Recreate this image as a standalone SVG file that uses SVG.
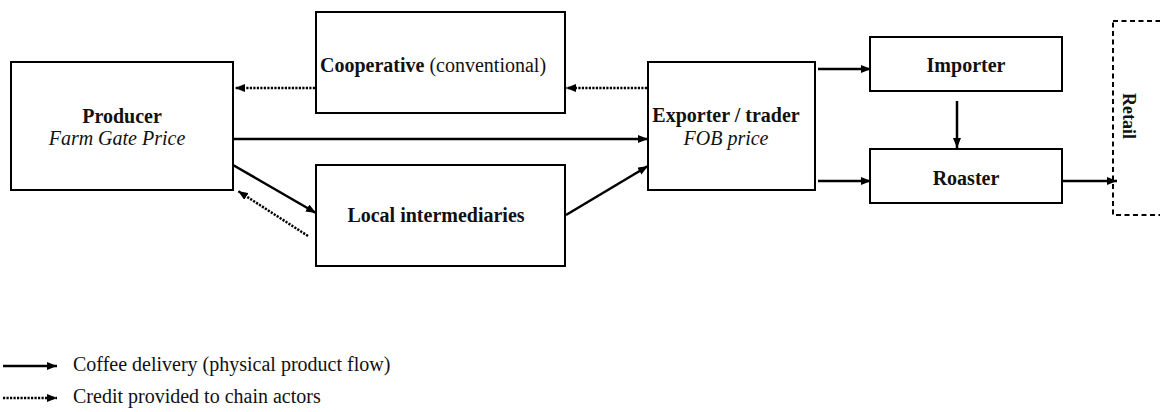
<svg xmlns="http://www.w3.org/2000/svg" width="1160" height="412" viewBox="0 0 1160 412">
<style>
.box{fill:#fff;stroke:#000;stroke-width:2}
.t{font-family:"Liberation Serif","Times New Roman",serif;font-size:20px;fill:#111}
.b{font-weight:bold}
.i{font-style:italic}
.solid{fill:none;stroke:#000;stroke-width:2.5}
.dot{fill:none;stroke:#000;stroke-width:2.5;stroke-dasharray:2.2 1.3}
</style>
<defs>
<marker id="ah" viewBox="0 0 10 8" refX="10" refY="4" markerWidth="10" markerHeight="8" markerUnits="userSpaceOnUse" orient="auto">
<path d="M0,0 L10,4 L0,8 z" fill="#000"/>
</marker>
</defs>
<rect width="1160" height="412" fill="#fff"/>
<g id="producer">
<rect class="box" x="11" y="62" width="222" height="128"/>
<text class="t b" x="122" y="123" text-anchor="middle">Producer</text>
<text class="t i" x="117" y="145" text-anchor="middle">Farm Gate Price</text>
</g>
<g id="cooperative">
<rect class="box" x="316" y="12" width="249" height="101"/>
<text class="t" x="320" y="72"><tspan class="b">Cooperative</tspan> (conventional)</text>
</g>
<g id="local">
<rect class="box" x="316" y="165" width="249" height="101"/>
<text class="t b" x="436" y="222" text-anchor="middle">Local intermediaries</text>
</g>
<g id="exporter">
<rect class="box" x="648" y="62" width="167" height="128"/>
<text class="t b" x="726" y="122" text-anchor="middle">Exporter / trader</text>
<text class="t i" x="726" y="145" text-anchor="middle">FOB price</text>
</g>
<g id="importer">
<rect class="box" x="870" y="37" width="192" height="54"/>
<text class="t b" x="966" y="72" text-anchor="middle">Importer</text>
</g>
<g id="roaster">
<rect class="box" x="870" y="149" width="192" height="54"/>
<text class="t b" x="966" y="185" text-anchor="middle">Roaster</text>
</g>
<g id="retail">
<rect x="1113" y="21" width="60" height="194" fill="none" stroke="#000" stroke-width="2" stroke-dasharray="5 3.5"/>
<text class="t b" style="font-size:18px" transform="translate(1123,116) rotate(90)" text-anchor="middle">Retail</text>
</g>
<g id="connectors">
<line class="dot" x1="315" y1="88" x2="235" y2="88" marker-end="url(#ah)"/>
<line class="dot" x1="647" y1="88" x2="566" y2="88" marker-end="url(#ah)"/>
<line class="solid" x1="233" y1="139" x2="648" y2="139" marker-end="url(#ah)"/>
<line class="solid" x1="233" y1="165" x2="316" y2="213" marker-end="url(#ah)"/>
<line class="dot" x1="308" y1="236" x2="238" y2="191" marker-end="url(#ah)"/>
<line class="solid" x1="566" y1="215" x2="648" y2="166" marker-end="url(#ah)"/>
<line class="solid" x1="818" y1="69" x2="871" y2="69" marker-end="url(#ah)"/>
<line class="solid" x1="818" y1="181" x2="871" y2="181" marker-end="url(#ah)"/>
<line class="solid" x1="957" y1="101" x2="957" y2="148" marker-end="url(#ah)"/>
<line class="solid" x1="1062" y1="181" x2="1117" y2="181" marker-end="url(#ah)"/>
</g>
<g id="legend">
<line class="solid" x1="3" y1="366" x2="57" y2="366" marker-end="url(#ah)"/>
<text class="t" x="73" y="371">Coffee delivery (physical product flow)</text>
<line class="dot" x1="3" y1="398" x2="57" y2="398" marker-end="url(#ah)"/>
<text class="t" x="73" y="403">Credit provided to chain actors</text>
</g>
</svg>
